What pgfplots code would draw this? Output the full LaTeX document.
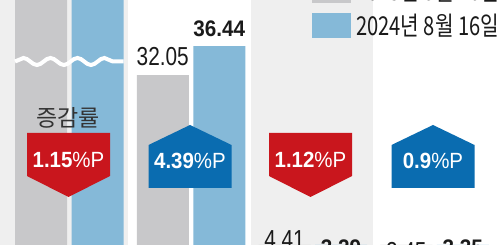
\documentclass[border=0pt]{standalone}
\usepackage{pgfplots}
\pgfplotsset{compat=1.18}
\usepackage{fontspec}
\usetikzlibrary{decorations.pathmorphing}
\setmainfont{Liberation Sans}
\newfontfamily\numfont{Liberation Sans}[FakeStretch=0.8]
\newfontfamily\numfontb{Liberation Sans}[FakeStretch=0.92]
\newfontfamily\badgefont{Liberation Sans}[FakeStretch=0.93]
\newfontfamily\kr{Noto Sans CJK KR}
\newfontfamily\krleg{Noto Sans CJK KR}[FakeStretch=0.775]
\definecolor{panel}{HTML}{EFEFEF}
\definecolor{barGray}{HTML}{C8C8CA}
\definecolor{barBlue}{HTML}{85B9D8}
\definecolor{badgeRed}{HTML}{C9161D}
\definecolor{badgeBlue}{HTML}{0A6CB0}
\definecolor{txt}{HTML}{1A1A1A}
\begin{document}
\begin{tikzpicture}[x=1pt,y=1pt]
\useasboundingbox (0,0) rectangle (500,245);
\clip (0,0) rectangle (500,245);
\fill[white] (0,0) rectangle (500,245);
\fill[panel] (0,0) rectangle (128,245);
\fill[panel] (250.5,0) rectangle (373,245);
\begin{axis}[at={(0,0)}, anchor=south west,
  width=500pt, height=245pt, scale only axis, hide axis,
  xmin=-0.5688, xmax=3.538, ymin=6.30, ymax=43.42, clip=false,
  ybar=4.5pt, bar width=52pt,
  every node near coord/.append style={anchor=south, inner sep=0pt, yshift=9pt, text=txt},
]
\addplot[fill=barGray, draw=none,
  nodes near coords, point meta=explicit symbolic,
  every node near coord/.append style={font=\numfont\fontsize{26}{26}\selectfont}]
  coordinates {(0,60.00) [{}] (1,32.05) [32.05] (2,4.41) [4.41] (3,2.45) [2.45]};
\addplot[fill=barBlue, draw=none,
  nodes near coords, point meta=explicit symbolic,
  every node near coord/.append style={font=\numfontb\bfseries\fontsize{22.5}{22.5}\selectfont}]
  coordinates {(0,58.85) [{}] (1,36.44) [36.44] (2,3.29) [3.29] (3,3.35) [3.35]};
\end{axis}
% broken-bar wave
\draw[white, line width=4pt, decorate, decoration={snake, amplitude=3.5pt, segment length=27pt}]
  (15,183.5) -- (123.5,183.5);
% legend
\fill[barGray] (312,242) rectangle (351,267);
\fill[barBlue] (312,207) rectangle (351,232);
\node[anchor=west, inner sep=0pt, text=txt, font=\krleg\fontsize{26}{26}\selectfont] at (356,254.5) {2023년 8월 16일};
\node[anchor=west, inner sep=0pt, text=txt, font=\krleg\fontsize{26}{26}\selectfont] at (356,219.5) {2024년 8월 16일};
% label
\node[text=black!80, font=\kr\fontsize{23}{23}\selectfont, inner sep=0pt] at (68,127) {증감률};
% badges (down = decrease, up = increase)
\fill[badgeRed, shift={(68.5,0)}] (-41.5,112) -- (41.5,112) -- (41.5,69) -- (0,48) -- (-41.5,69) -- cycle;
\fill[badgeRed, shift={(310.5,0)}] (-41.5,112) -- (41.5,112) -- (41.5,69) -- (0,48) -- (-41.5,69) -- cycle;
\fill[badgeBlue, shift={(190,0)}] (-41.5,57) -- (41.5,57) -- (41.5,100) -- (0,120) -- (-41.5,100) -- cycle;
\fill[badgeBlue, shift={(433,0)}] (-41.5,57) -- (41.5,57) -- (41.5,100) -- (0,120) -- (-41.5,100) -- cycle;
\tikzset{bt/.style={text=white, inner sep=0pt, font=\badgefont\fontsize{22}{22}\selectfont}}
\node[bt] at (68.5,85.5) {\textbf{1.15}\%P};
\node[bt] at (190,84) {\textbf{4.39}\%P};
\node[bt] at (310.5,85.5) {\textbf{1.12}\%P};
\node[bt] at (433,84) {\textbf{0.9}\%P};
\end{tikzpicture}
\end{document}
